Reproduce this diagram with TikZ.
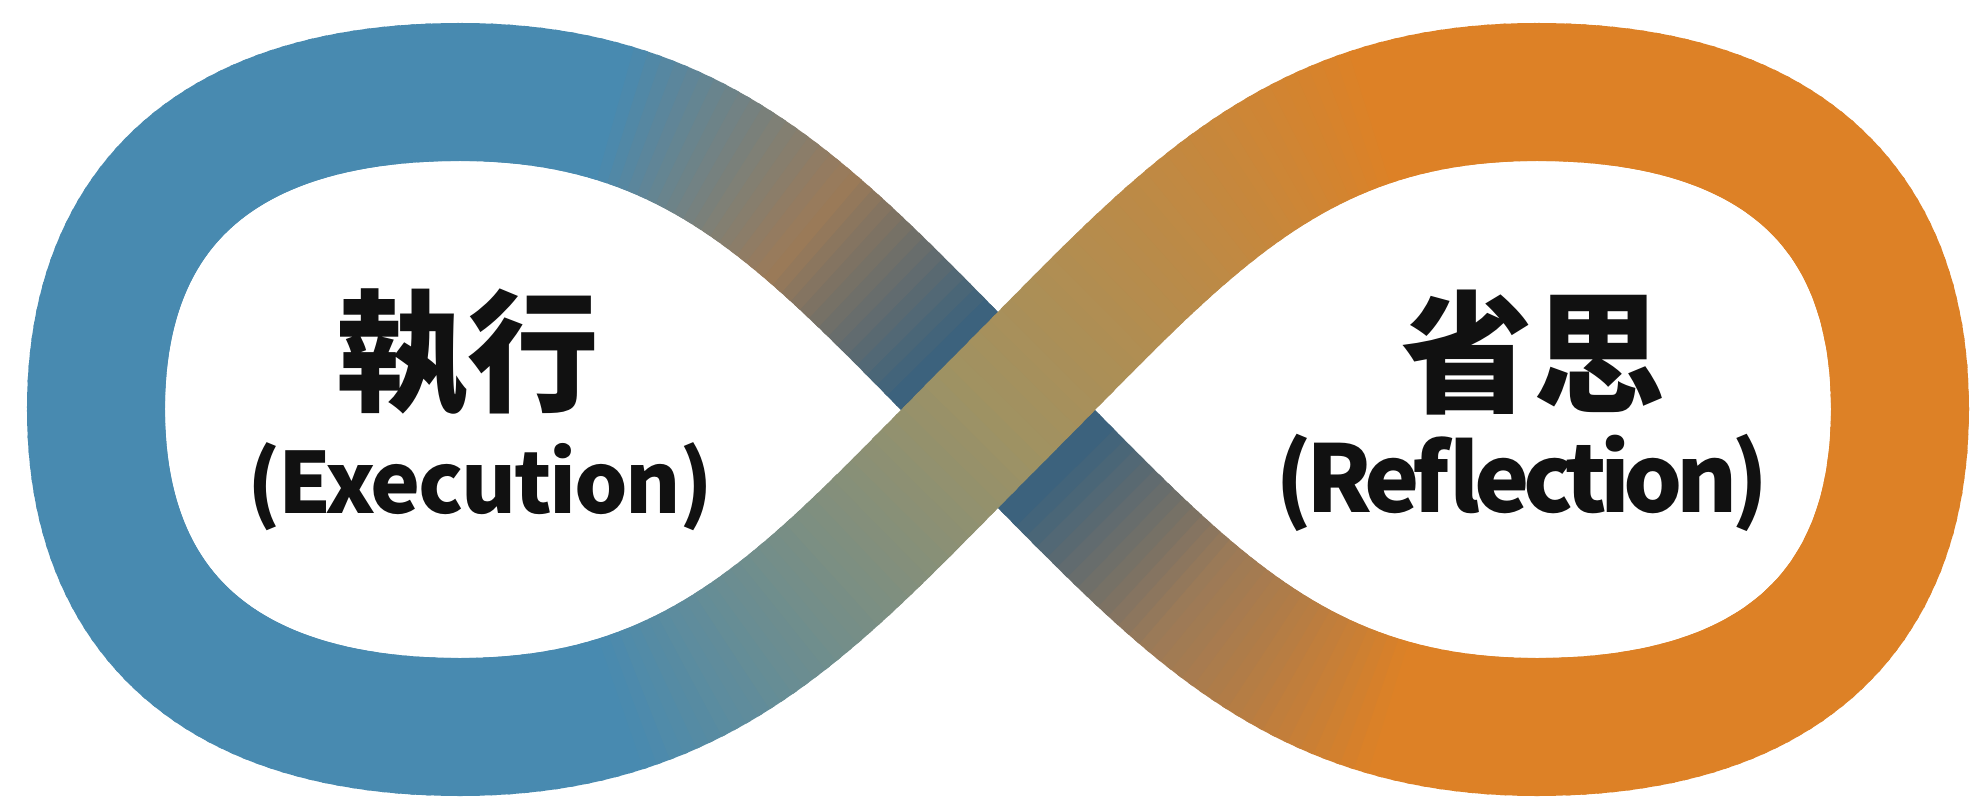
\documentclass[tikz,border=0pt]{standalone}
\usepackage{fontspec}
\newfontfamily\cjk{Noto Sans CJK TC}
\newfontfamily\latinA{Noto Sans CJK TC}[LetterSpace=-2.7]
\newfontfamily\latinB{Noto Sans CJK TC}[LetterSpace=-7]
\definecolor{ink}{HTML}{111111}
\tikzset{
  band/.style={line width=2.76cm, line cap=butt},
  cjklabel/.style={font={\cjk\bfseries\fontsize{75pt}{75pt}\selectfont}, text=ink, inner sep=0pt},
  latlabel/.style={text=ink, inner sep=0pt, anchor=base},
}
% one Bezier segment of the centre line, drawn as short overlapping pieces
% #1..#8: P0x P0y P1x P1y P2x P2y P3x P3y ; #9: 0 = plain gradient, 1 = under strand
\newcommand\drawseg[9]{%
  \foreach \i in {0,...,47}{%
    \pgfmathsetmacro\tA{\i/48}%
    \pgfmathsetmacro\tB{(\i+1)/48}%
    \pgfmathsetmacro\xA{(1-\tA)^3*#1+3*(1-\tA)^2*\tA*#3+3*(1-\tA)*\tA^2*#5+\tA^3*#7}%
    \pgfmathsetmacro\yA{(1-\tA)^3*#2+3*(1-\tA)^2*\tA*#4+3*(1-\tA)*\tA^2*#6+\tA^3*#8}%
    \pgfmathsetmacro\xB{(1-\tB)^3*#1+3*(1-\tB)^2*\tB*#3+3*(1-\tB)*\tB^2*#5+\tB^3*#7}%
    \pgfmathsetmacro\yB{(1-\tB)^3*#2+3*(1-\tB)^2*\tB*#4+3*(1-\tB)*\tB^2*#6+\tB^3*#8}%
    \pgfmathsetmacro\xM{(\xA+\xB)/2}%
    \pgfmathsetmacro\sL{max(0.01,veclen(\xB-\xA,\yB-\yA))}%
    \pgfmathsetmacro\eX{3.5*(\xB-\xA)/\sL}%
    \pgfmathsetmacro\eY{3.5*(\yB-\yA)/\sL}%
    \ifnum#9=0
      \pgfmathsetmacro\gS{min(1,max(0,(\xM-620)/760))}%
      \pgfmathsetmacro\aOne{min(1,2*\gS)}%
      \pgfmathsetmacro\aTwo{max(0,2*\gS-1)}%
      \pgfmathsetmacro\colR{(72+\aOne*88+\aTwo*61)/255}%
      \pgfmathsetmacro\colG{(138+\aOne*8-\aTwo*17)/255}%
      \pgfmathsetmacro\colB{(176-\aOne*78-\aTwo*60)/255}%
    \else
      \pgfmathsetmacro\uU{abs(\xM-998)}%
      \pgfmathsetmacro\wA{min(1,max(0,(\uU-60)/130))}%
      \pgfmathsetmacro\wC{min(1,max(0,(\uU-190)/200))}%
      \pgfmathsetmacro\LR{\xM<998 ? 72 : 221}%
      \pgfmathsetmacro\LG{\xM<998 ? 138 : 129}%
      \pgfmathsetmacro\LB{\xM<998 ? 176 : 38}%
      \pgfmathsetmacro\colR{(60*(1-\wA)+\wA*(155*(1-\wC)+\LR*\wC))/255}%
      \pgfmathsetmacro\colG{(98*(1-\wA)+\wA*(122*(1-\wC)+\LG*\wC))/255}%
      \pgfmathsetmacro\colB{(125*(1-\wA)+\wA*(88*(1-\wC)+\LB*\wC))/255}%
    \fi
    \definecolor{segc}{rgb}{\colR,\colG,\colB}%
    \draw[band, segc] (\xA-\eX,\yA-\eY) -- (\xB+\eX,\yB+\eY);%
  }%
}
\begin{document}
\begin{tikzpicture}[x=0.02cm, y=-0.02cm]
  \useasboundingbox (0,0) rectangle (1970,798);
  \fill[white] (0,0) rectangle (1970,798);
  % right loop
  \drawseg{1537}{92}{1774}{92}{1900}{202}{1900}{409}{0}
  \drawseg{1900}{409}{1900}{616}{1774}{727}{1537}{727}{0}
  % under strand (right bottom -> centre -> left top)
  \drawseg{1537}{727}{1287}{727}{1178}{590}{998}{410}{1}
  \drawseg{998}{410}{818}{230}{710}{92}{460}{92}{1}
  % left loop
  \drawseg{460}{92}{223}{92}{96}{202}{96}{409}{0}
  \drawseg{96}{409}{96}{616}{223}{727}{460}{727}{0}
  % over strand (left bottom -> centre -> right top)
  \drawseg{460}{727}{710}{727}{818}{590}{998}{410}{0}
  \drawseg{998}{410}{1178}{230}{1287}{92}{1537}{92}{0}
  % labels
  \node[cjklabel] (execzh) at (467,353) {執行};
  \node[latlabel, font={\latinA\bfseries\fontsize{48pt}{48pt}\selectfont}] (execen) at (480,513) {(Execution)};
  \node[cjklabel] (reflzh) at (1533,353) {省思};
  \node[latlabel, font={\latinB\bfseries\fontsize{53pt}{53pt}\selectfont}] (reflen) at (1522,512) {(Reflection)};
\end{tikzpicture}
\end{document}
